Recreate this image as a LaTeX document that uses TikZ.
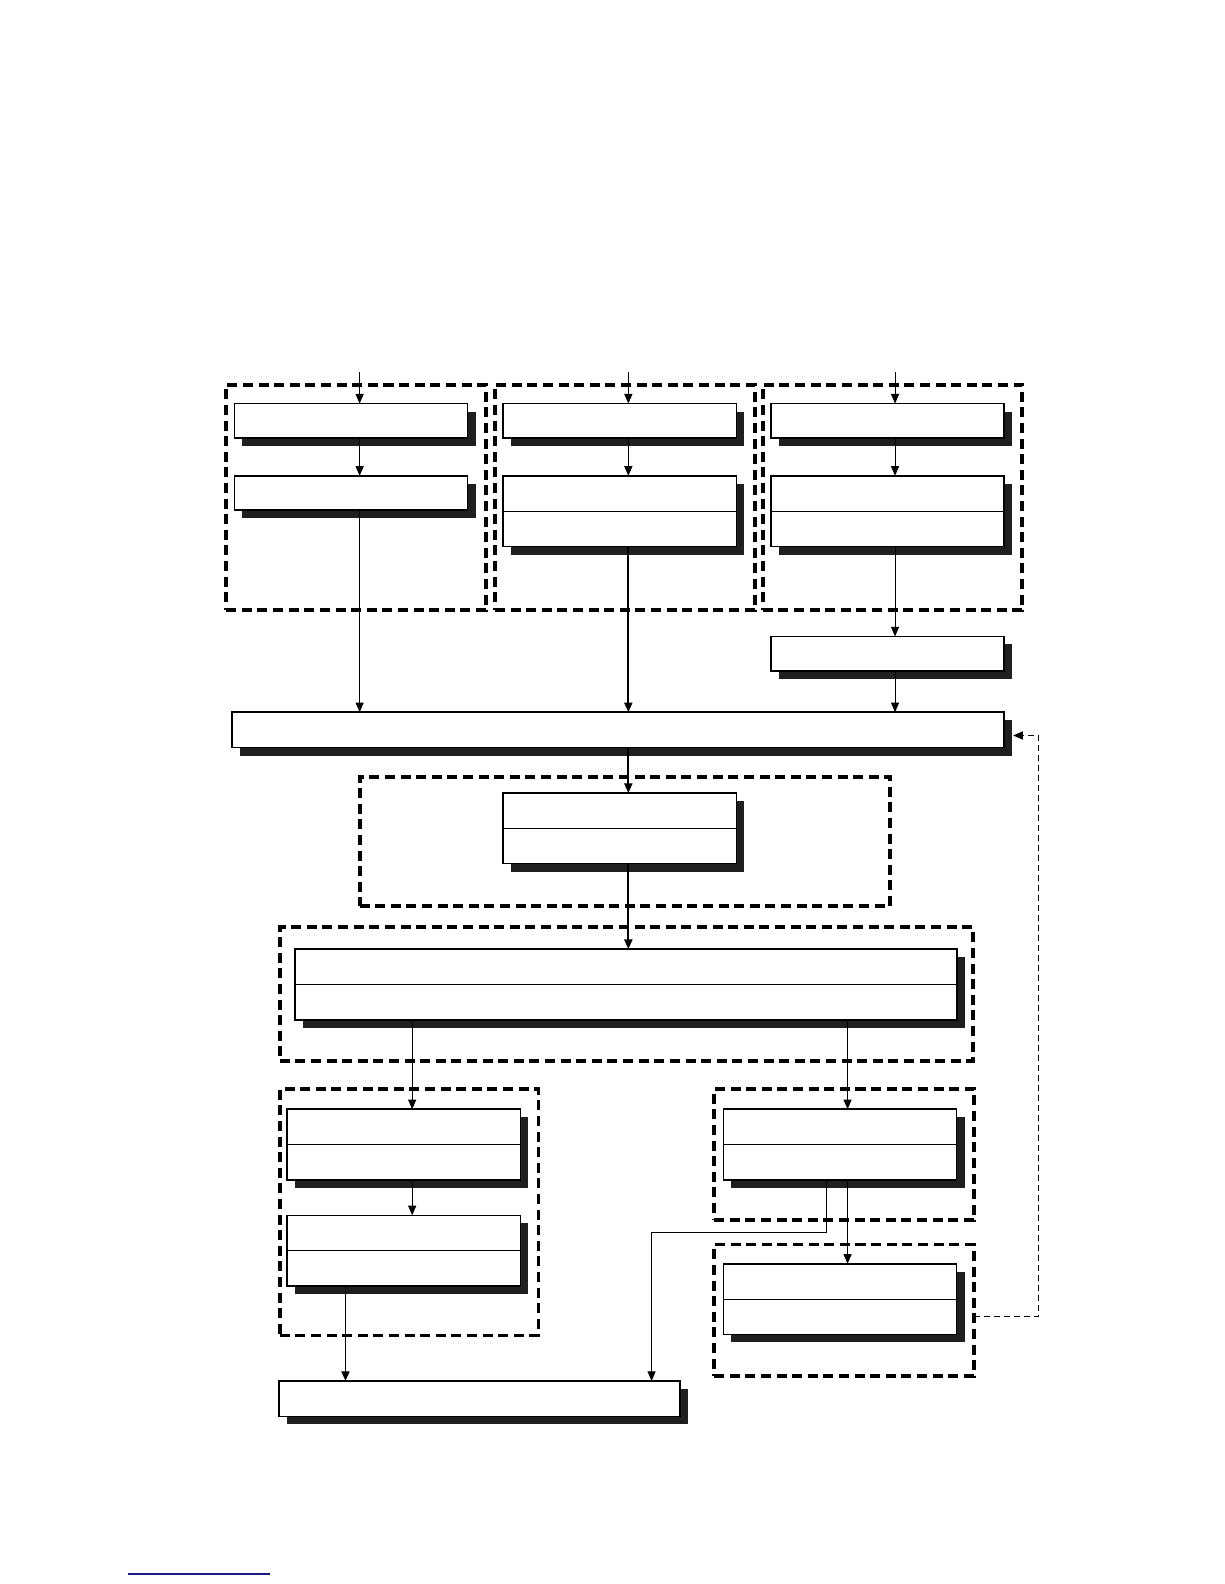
\documentclass[tikz,border=0pt]{standalone}
\usetikzlibrary{arrows.meta,shadows}
\definecolor{linkblue}{RGB}{25,25,140}
\newcommand{\upx}{0.505pt}
\tikzset{
    panel/.style={draw,line width=0.75pt,fill=white,inner sep=0pt,outer sep=0pt,
        minimum width=231*\upx,minimum height=34*\upx,
        drop shadow={shadow xshift=4pt,shadow yshift=-4pt,fill=black!88,opacity=1}},
    panelsplit/.style={panel,minimum height=70*\upx,
        path picture={\draw[line width=0.6pt] (path picture bounding box.west) -- (path picture bounding box.east);}},
    dashgroup/.style={draw,line width=1.9pt,dash pattern=on 5pt off 2.8pt,inner sep=0pt,outer sep=0pt},
    flow/.style={line width=0.55pt,-{Triangle[length=4.8pt,width=4pt]}},
    mainflow/.style={flow,line width=0.95pt},
    feedback/.style={line width=0.6pt,dash pattern=on 3pt off 2pt,-{Triangle[length=4.8pt,width=4pt]}}
}
\begin{document}
\begin{tikzpicture}[x=0.505pt,y=-0.505pt]
    \useasboundingbox (0,0) rectangle (1212,1568);

    \node[dashgroup,minimum width=257*\upx,minimum height=223*\upx] (grpA) at (352.5,492.5) {};
    \node[dashgroup,minimum width=257*\upx,minimum height=223*\upx] (grpB) at (618.5,492.5) {};
    \node[dashgroup,minimum width=257*\upx,minimum height=223*\upx] (grpC) at (883.5,492.5) {};
    \node[dashgroup,minimum width=525*\upx,minimum height=128*\upx] (grpM) at (618.5,833) {};
    \node[dashgroup,minimum width=686*\upx,minimum height=132*\upx] (grpW) at (620,984) {};
    \node[dashgroup,minimum width=256*\upx,minimum height=244*\upx] (grpL) at (405,1200) {};
    \node[dashgroup,minimum width=257*\upx,minimum height=130*\upx] (grpR1) at (835.5,1143) {};
    \node[dashgroup,minimum width=257*\upx,minimum height=130*\upx] (grpR2) at (835.5,1297) {};

    \node[panel] (a1) at (347.5,416.5) {};
    \node[panel] (a2) at (347.5,488) {};
    \node[panel] (b1) at (613.5,416.5) {};
    \node[panelsplit] (b2) at (613.5,506) {};
    \node[panel] (c1) at (878.5,416.5) {};
    \node[panelsplit] (c2) at (878.5,506) {};
    \node[panel] (c3) at (878.5,647) {};
    \node[panel,minimum width=764*\upx,minimum height=35*\upx,line width=0.85pt] (hub) at (612,722.5) {};
    \node[panelsplit] (m) at (613.5,820) {};
    \node[panelsplit,minimum width=655*\upx,line width=0.85pt] (w) at (619.5,974.5) {};
    \node[panelsplit] (l1) at (399.5,1133) {};
    \node[panelsplit] (l2) at (399.5,1238) {};
    \node[panelsplit] (r1) at (831.5,1133) {};
    \node[panelsplit] (r2) at (831.5,1286) {};
    \node[panel,minimum width=397*\upx,minimum height=35*\upx] (f) at (474.5,1384.5) {};

    \coordinate (inA) at (356,368);
    \coordinate (inB) at (622,368);
    \coordinate (inC) at (886,368);
    \coordinate (colL) at (408,0);
    \coordinate (colR) at (839,0);
    \coordinate (colF) at (342,0);
    \coordinate (colS) at (818,0);
    \coordinate (bend) at (645,1220);
    \coordinate (fb) at (1028,1303);

    \draw[flow] (inA) -- (inA |- a1.north);
    \draw[flow] (inA |- a1.south) -- (inA |- a2.north);
    \draw[flow] (inA |- a2.south) -- (inA |- hub.north);
    \draw[flow] (inB) -- (inB |- b1.north);
    \draw[flow] (inB |- b1.south) -- (inB |- b2.north);
    \draw[mainflow] (inB |- b2.south) -- (inB |- hub.north);
    \draw[flow] (inC) -- (inC |- c1.north);
    \draw[flow] (inC |- c1.south) -- (inC |- c2.north);
    \draw[flow] (inC |- c2.south) -- (inC |- c3.north);
    \draw[flow] (inC |- c3.south) -- (inC |- hub.north);
    \draw[mainflow] (inB |- hub.south) -- (inB |- m.north);
    \draw[mainflow] (inB |- m.south) -- (inB |- w.north);
    \draw[flow] (colL |- w.south) -- (colL |- l1.north);
    \draw[flow] (colL |- l1.south) -- (colL |- l2.north);
    \draw[mainflow] (colF |- l2.south) -- (colF |- f.north);
    \draw[flow] (colR |- w.south) -- (colR |- r1.north);
    \draw[flow] (colR |- r1.south) -- (colR |- r2.north);
    \draw[flow] (colS |- r1.south) |- (bend) -- (bend |- f.north);
    \draw[feedback] (grpR2.east |- fb) -- (fb) |- ([xshift=4.5pt,yshift=-2.8pt]hub.east);

    \draw[line width=0.7pt,linkblue] (127,1558) -- (267,1558);
\end{tikzpicture}
\end{document}
